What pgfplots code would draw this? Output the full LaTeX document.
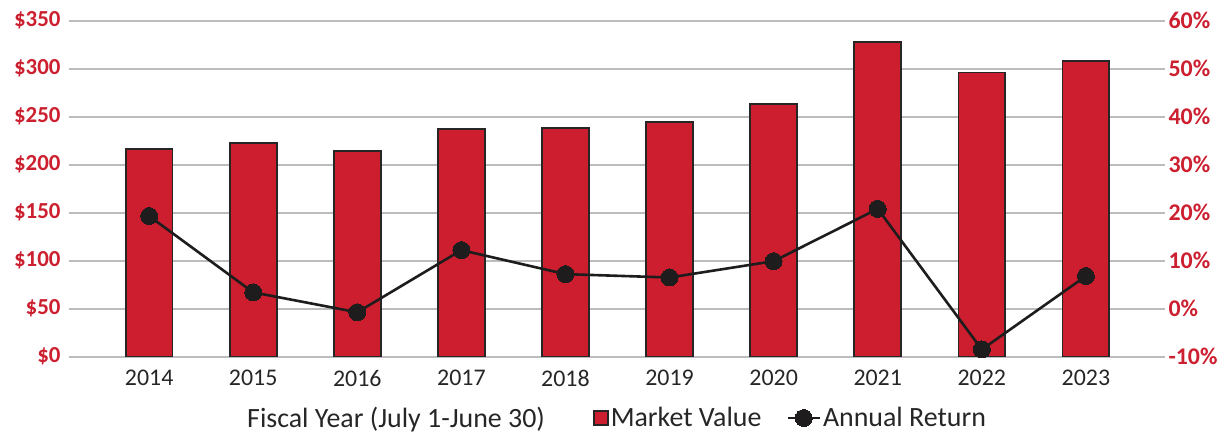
\documentclass[border=0pt]{standalone}
\usepackage{pgfplots}
\pgfplotsset{compat=1.18}
\usepackage{fontspec}
\setmainfont{Carlito}
\definecolor{barred}{HTML}{CC1E2F}
\definecolor{tickred}{HTML}{CC1F30}
\definecolor{gridgray}{HTML}{BDBDBD}
\definecolor{darktext}{HTML}{262626}
\definecolor{linek}{HTML}{1E1C1C}
\definecolor{barline}{HTML}{262626}
\pgfplotsset{
  linelegend/.style={legend image code/.code={\draw[mark repeat=2, mark phase=2, ##1] plot coordinates {(0bp,0bp) (16bp,0bp) (32bp,0bp)};}},
  squarelegend/.style={legend image code/.code={\draw[##1] (0bp,-7bp) rectangle (14bp,7bp);}},
  common/.style={
    width=1096bp, height=336bp, scale only axis,
    xmin=-0.77, xmax=9.76,
    axis line style={draw=none},
    major tick length=0pt,
    font=\fontsize{24}{28}\selectfont,
  }}
\begin{document}
\begin{tikzpicture}
\begin{axis}[common,
  ymin=0, ymax=350,
  ytick={0,50,100,150,200,250,300,350},
  yticklabels={\$0,\$50,\$100,\$150,\$200,\$250,\$300,\$350},
  yticklabel style={font=\bfseries\fontsize{23}{28}\selectfont, text=tickred, xshift=-5bp},
  xtick={0,1,2,3,4,5,6,7,8,9},
  xticklabels={2014,2015,2016,2017,2018,2019,2020,2021,2022,2023},
  xticklabel style={text=darktext, yshift=-10bp},
  ymajorgrids, grid style={gridgray, line width=2bp},
  ]
\addplot[ybar, bar width=0.45, fill=barred, draw=barline, line width=1.8bp]
  coordinates {(0,216.4) (1,222.6) (2,214.6) (3,236.9) (4,238.6) (5,244.8) (6,263.5) (7,328) (8,296) (9,308)};
\coordinate (SW) at (rel axis cs:0,0);
\coordinate (NE) at (rel axis cs:1,1);
\end{axis}
\begin{axis}[common,
  axis y line*=right, axis x line=none,
  ymin=-10, ymax=60,
  ytick={-10,0,10,20,30,40,50,60},
  yticklabels={-10\%,0\%,10\%,20\%,30\%,40\%,50\%,60\%},
  yticklabel style={font=\bfseries\fontsize{24}{28}\selectfont, text=tickred},
  clip=false,
  legend columns=-1,
  legend style={draw=none, fill=none, inner sep=0pt, text=darktext,
    font=\fontsize{28}{32}\selectfont,
    at={(axis description cs:0.1606,-0.1825)}, anchor=west,
    /tikz/every even column/.append style={column sep=23bp}},
  ]
\addlegendimage{empty legend}
\addlegendentry{Fiscal Year (July 1-June 30)\kern23bp}
\addlegendimage{squarelegend, fill=barred, draw=barline, line width=1.8bp}
\addlegendentry{Market Value}
\addplot[linek, line width=2.6bp, mark=*, mark size=8.5bp, mark options={fill=linek, draw=linek, line width=0pt}, linelegend]
  coordinates {(0,19.3) (1,3.4) (2,-0.75) (3,12.2) (4,7.2) (5,6.5) (6,9.9) (7,20.8) (8,-8.5) (9,6.8)};
\addlegendentry{Annual Return}
\end{axis}
\path ([shift={(-69bp,-76.3bp)}]SW) rectangle ([shift={(60bp,20.7bp)}]NE);
\end{tikzpicture}
\end{document}
